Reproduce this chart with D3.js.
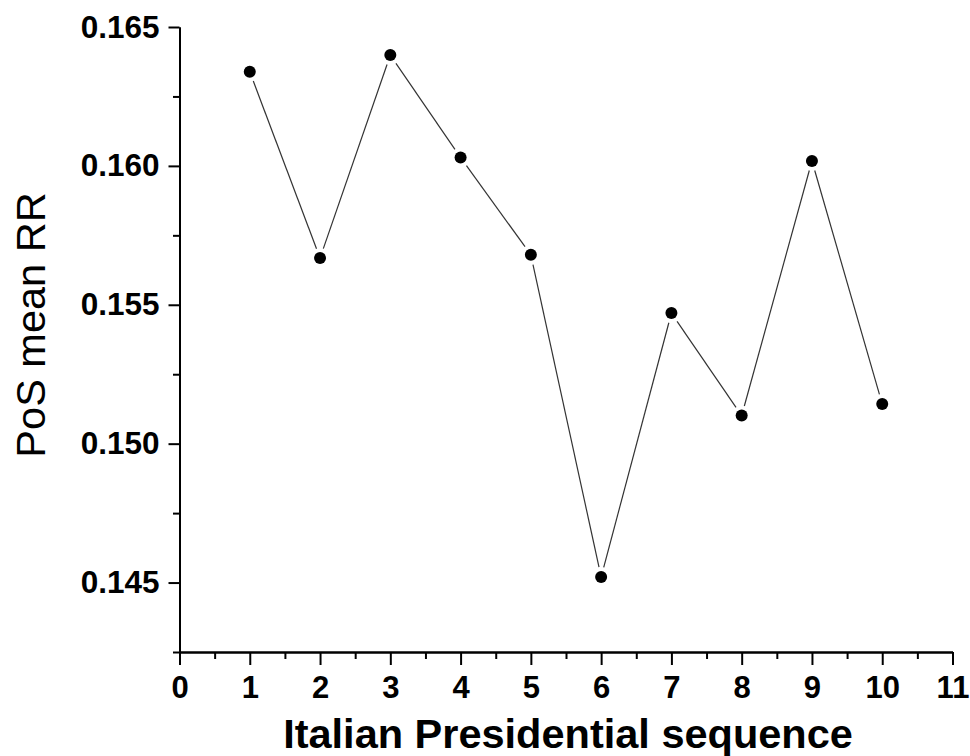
<!DOCTYPE html>
<html>
<head>
<meta charset="utf-8">
<script src="https://cdn.jsdelivr.net/npm/d3@7"></script>
<style>
  html, body { margin: 0; padding: 0; background: #fff; }
  svg { display: block; }
  text { font-family: "Liberation Sans", Arial, Helvetica, sans-serif; fill: #000; }
</style>
</head>
<body>
<svg id="chart" width="970" height="756"></svg>
<script>
// ---- data ----
const sequence = [1, 2, 3, 4, 5, 6, 7, 8, 9, 10];
const meanRR = [0.16339, 0.15668, 0.16399, 0.16030, 0.15680, 0.14520, 0.15470, 0.15101, 0.16018, 0.15143];
const xMajorTicks = [0, 1, 2, 3, 4, 5, 6, 7, 8, 9, 10, 11];
const xMinorTicks = [0.5, 1.5, 2.5, 3.5, 4.5, 5.5, 6.5, 7.5, 8.5, 9.5, 10.5];
const yMajorTicks = [0.145, 0.150, 0.155, 0.160, 0.165];
const yMinorTicks = [0.1425, 0.1475, 0.1525, 0.1575, 0.1625];
const xTitle = "Italian Presidential sequence";
const yTitle = "PoS mean RR";

const svg = d3.select("#chart");
const mLeft = 179.5, mRight = 952.5, mTop = 27, mBottom = 652;

const x = d3.scaleLinear().domain([0, 11]).range([mLeft, mRight]);
const y = d3.scaleLinear().domain([0.1425, 0.165]).range([mBottom, mTop]);

// minor axes (no labels)
const gxMinor = svg.append("g").attr("transform", `translate(0,${mBottom})`)
  .call(d3.axisBottom(x).tickValues(xMinorTicks).tickSize(7).tickSizeOuter(0).tickFormat(""));
const gyMinor = svg.append("g").attr("transform", `translate(${mLeft},0)`)
  .call(d3.axisLeft(y).tickValues(yMinorTicks).tickSize(6.5).tickSizeOuter(0).tickFormat(""));

// major axes
const gx = svg.append("g").attr("transform", `translate(0,${mBottom})`)
  .call(d3.axisBottom(x).tickValues(xMajorTicks).tickSize(13).tickSizeOuter(0).tickPadding(11).tickFormat(d3.format("d")));
const gy = svg.append("g").attr("transform", `translate(${mLeft},0)`)
  .call(d3.axisLeft(y).tickValues(yMajorTicks).tickSize(11).tickSizeOuter(0).tickPadding(9).tickFormat(d3.format(".3f")));

[gxMinor, gyMinor, gx, gy].forEach(g => {
  g.select(".domain").attr("stroke", "#000").attr("stroke-width", 2);
  g.selectAll(".tick line").attr("stroke", "#000").attr("stroke-width", 2);
});
gx.selectAll(".tick text").attr("font-size", 31).attr("font-weight", "bold")
  .attr("font-family", "'Liberation Sans', Arial, sans-serif").attr("fill", "#000");
gy.selectAll(".tick text").attr("font-size", 31.5).attr("font-weight", "bold")
  .attr("font-family", "'Liberation Sans', Arial, sans-serif").attr("fill", "#000");

// titles
svg.append("text")
  .attr("x", 568).attr("y", 748)
  .attr("text-anchor", "middle")
  .attr("font-size", 41.5).attr("font-weight", "bold")
  .text(xTitle);
svg.append("text")
  .attr("transform", `translate(45,325) rotate(-90)`)
  .attr("text-anchor", "middle")
  .attr("font-size", 41.5)
  .text(yTitle);

// data
const pts = sequence.map((s, i) => ({ px: x(s), py: y(meanRR[i]) }));
const gap = 10;
const segs = d3.pairs(pts).map(([a, b]) => {
  const dx = b.px - a.px, dy = b.py - a.py, len = Math.hypot(dx, dy);
  const ux = dx / len, uy = dy / len;
  return { x1: a.px + ux * gap, y1: a.py + uy * gap, x2: b.px - ux * gap, y2: b.py - uy * gap };
});
svg.append("g").selectAll("line").data(segs).join("line")
  .attr("x1", d => d.x1).attr("y1", d => d.y1)
  .attr("x2", d => d.x2).attr("y2", d => d.y2)
  .attr("stroke", "#333").attr("stroke-width", 1.2);

svg.append("g").selectAll("circle").data(pts).join("circle")
  .attr("cx", d => d.px).attr("cy", d => d.py).attr("r", 6)
  .attr("fill", "#000");
</script>
</body>
</html>
